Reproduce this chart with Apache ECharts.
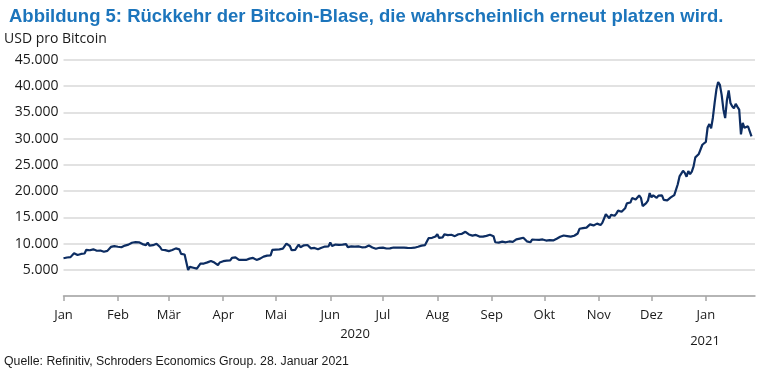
<!DOCTYPE html>
<html><head><meta charset="utf-8">
<script src="https://cdn.jsdelivr.net/npm/echarts@6/dist/echarts.min.js"></script>
<style>html,body{margin:0;padding:0;background:#fff}#c{width:770px;height:374px}</style>
</head><body><div id="c"></div>
<script>
// Daily BTC price (USD)
const jan20 = [7200,6985,7345,7410,7411,7770,8165,8040,7810,8190,8020,8180,8105,8810,8820,8720,8910,8900,8700,8630,8730,8660,8380,8430,8330,8600,8900,9360,9300,9510,9350];
const feb20 = [9390,9340,9290,9180,9610,9730,9800,9900,10160,9850,10270,10350,10230,10360,9900,9930,9700,10180,9600,9610,9690,9660,9960,9650,9340,8820,8780,8750,8600];
const mar20 = [8560,8870,8760,8750,9080,9150,8890,8040,7950,7910,7910,4970,5560,5200,5390,5010,5220,5230,6190,6200,6190,5830,6410,6730,6680,6730,6370,6260,5880,6390,6440];
const apr20 = [6640,6790,6730,6860,6790,7270,7180,7360,7300,6870,6880,6910,6860,6880,6640,7120,7100,7260,7190,6880,6880,7120,7480,7510,7540,7700,7790,7760,8790,8660];
const may20 = [8860,8990,8900,8880,9030,9150,9990,9810,9540,8720,8560,8810,9310,9790,9310,9380,9670,9730,9730,9520,9080,9180,9170,8790,8900,8840,9200,9570,9430,9700,9460];
const jun20 = [10200,9520,9660,9800,9650,9760,9670,9800,9780,9880,9320,9470,9470,9340,9430,9530,9460,9400,9290,9350,9300,9650,9620,9300,9250,9160,9010,9120,9190,9140];
const jul20 = [9230,9090,9060,9130,9080,9340,9250,9430,9240,9290,9240,9300,9240,9250,9190,9130,9150,9180,9210,9160,9390,9540,9610,9550,9710,9930,11030,10950,11100,11110,11350];
const aug20 = [11800,11070,11230,11190,11740,11770,11600,11750,11680,11880,11410,11580,11780,11770,11860,11910,12250,11990,11740,11860,11520,11680,11650,11750,11330,11460,11320,11530,11470,11710,11680];
const sep20 = [11970,11410,10250,10510,10170,10280,10370,10130,10240,10360,10400,10440,10330,10680,10790,10950,10950,10930,11100,10920,10420,10540,10240,10740,10690,10730,10770,10710,10840,10780];
const oct20 = [10620,10570,10550,10670,10790,10600,10670,10920,11060,11300,11380,11540,11430,11430,11500,11320,11360,11480,11740,11920,12820,12970,12930,13110,13030,13070,13650,13270,13460,13560,13800];
const nov20 = [13740,13550,13950,14130,15590,15580,14830,15480,15330,15300,15700,16280,16330,16070,15960,16720,17650,17800,17820,18680,18710,18410,18370,19160,18720,17150,17140,17720,18180,19630];
const dec20 = [18800,19200,19440,18700,19150,19360,19170,18320,18550,18250,18040,18800,19140,19250,19430,21310,22800,23140,23870,23480,22750,23820,23240,23730,24710,26440,26280,27080,27360,28840,29000];
const jan21 = [29370,32130,32780,31970,33990,36820,39370,40800,40250,38350,35570,33920,37320,39190,36820,36180,35790,36630,36070,35550,30830,33010,32080,32280,32370,32570,30430];

const monthNames = ['Jan','Feb','Mär','Apr','Mai','Jun','Jul','Aug','Sep','Okt','Nov','Dez'];
const yTicks = [5000,10000,15000,20000,25000,30000,35000,40000,45000];

const values = [].concat(jan20,feb20,mar20,apr20,may20,jun20,jul20,aug20,sep20,oct20,nov20,dec20,jan21);
const startDate = Date.UTC(2020,0,1);
const nDays = 395; // through 29 Jan 2021
const dates = [];
for (let i = 0; i < nDays; i++) {
  const d = new Date(startDate + i*86400000);
  dates.push(d.getUTCFullYear() + '-' + String(d.getUTCMonth()+1).padStart(2,'0') + '-' + String(d.getUTCDate()).padStart(2,'0'));
}
const isMonthStart = (i, v) => v.slice(8) === '01';

const chart = echarts.init(document.getElementById('c'), null, {renderer:'canvas'});
chart.setOption({
  animation: false,
  backgroundColor: '#fff',
  title: {
    text: 'Abbildung 5: Rückkehr der Bitcoin-Blase, die wahrscheinlich erneut platzen wird.',
    left: 4, top: 2,
    textStyle: {fontFamily: 'Liberation Sans', fontWeight: 'bold', fontSize: 18.5, color: '#1c75bc'}
  },
  graphic: [
    {type:'text', x: 4, y: 39.5, style:{text:'USD pro Bitcoin', font:'14px "Open Sans"', fill:'#1a1a1a', verticalAlign:'middle'}},
    {type:'text', left: 4, top: 356, style:{text:'Quelle: Refinitiv, Schroders Economics Group. 28. Januar 2021', font:'12.3px "Liberation Sans"', fill:'#1a1a1a'}},
    {type:'text', x: 355, y: 334, style:{text:'2020', font:'13px "Open Sans"', fill:'#1a1a1a', align:'center', verticalAlign:'middle'}},
    {type:'text', x: 705, y: 341, style:{text:'2021', font:'13px "Open Sans"', fill:'#1a1a1a', align:'center', verticalAlign:'middle'}}
  ],
  grid: {left: 63.5, right: 15, top: 60, bottom: 78},
  xAxis: {
    type: 'category', boundaryGap: false, data: dates,
    axisLine: {lineStyle: {color: '#a6a6a6', width: 1.5}},
    axisTick: {interval: isMonthStart, length: 5, lineStyle: {color: '#a6a6a6', width: 1.5}},
    axisLabel: {interval: isMonthStart, margin: 13, fontFamily: 'Open Sans', fontSize: 13, color: '#1a1a1a',
      formatter: v => monthNames[parseInt(v.slice(5,7),10)-1]},
    splitLine: {show: false}
  },
  yAxis: {
    type: 'value', min: 0, max: 45000, interval: 5000,
    axisLine: {show: false}, axisTick: {show: false},
    axisLabel: {fontFamily: 'Open Sans', fontSize: 14, color: '#1a1a1a', margin: 5,
      formatter: v => (yTicks.indexOf(v) >= 0 ? String(v).replace(/\B(?=(\d{3})+(?!\d))/g, '.') : '')},
    splitLine: {lineStyle: {color: '#d9d9d9', width: 1.5}}
  },
  series: [{
    type: 'line', data: values, showSymbol: false, symbol: 'none',
    lineStyle: {color: '#0d2d62', width: 2.2}
  }]
});
</script></body></html>
